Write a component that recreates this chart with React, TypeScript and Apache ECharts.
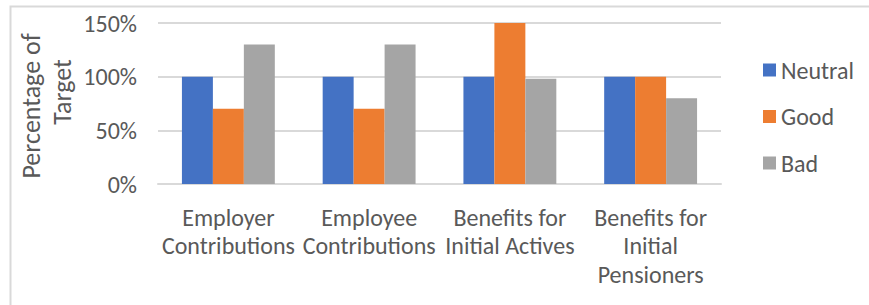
import React, { useEffect, useRef } from "react";
import * as echarts from "echarts";

const categories = [
  "Employer\nContributions",
  "Employee\nContributions",
  "Benefits for\nInitial Actives",
  "Benefits for\nInitial\nPensioners",
];
const seriesNames = ["Neutral", "Good", "Bad"];
const neutralValues = [100, 100, 100, 100];
const goodValues = [70, 70, 150, 100];
const badValues = [130, 130, 98, 80];
const yTicks = [0, 50, 100, 150];
const yAxisTitleLines = ["Percentage of", "Target"];

const FONT = "Carlito, Calibri, Lato, sans-serif";
const TEXT = "#595959";
const GRID = "#d9d9d9";
const COLORS = ["#4472C4", "#ED7D31", "#A5A5A5"];
const FS = 24;
const TITLE_FS = 26;

export default function App() {
  const ref = useRef<HTMLDivElement>(null);
  useEffect(() => {
    if (!ref.current) return;
    const chart = echarts.init(ref.current, undefined, { renderer: "svg" });
    const values = [neutralValues, goodValues, badValues];
    chart.setOption({
      animation: false,
      color: COLORS,
      textStyle: { fontFamily: FONT },
      grid: { left: 158, right: 148, top: 23, bottom: 121, containLabel: false },
      legend: {
        orient: "vertical",
        left: 758,
        top: 53,
        itemWidth: 13,
        itemHeight: 13,
        itemGap: 22.5,
        itemTextGap: 6,
        icon: "rect",
        selectedMode: false,
        textStyle: { color: TEXT, fontSize: FS, fontFamily: FONT },
        data: seriesNames,
      },
      xAxis: {
        type: "category",
        data: categories,
        axisLine: { show: true, lineStyle: { color: GRID, width: 2 } },
        axisTick: { show: false },
        axisLabel: {
          interval: 0,
          color: TEXT,
          fontSize: FS,
          fontFamily: FONT,
          lineHeight: 28.5,
          margin: 19,
          align: "center",
        },
      },
      yAxis: {
        type: "value",
        min: yTicks[0],
        max: yTicks[yTicks.length - 1],
        interval: 50,
        axisLine: { show: false },
        axisTick: { show: false },
        splitLine: { lineStyle: { color: GRID, width: 2 } },
        axisLabel: {
          color: TEXT,
          fontSize: FS,
          fontFamily: FONT,
          margin: 21,
          formatter: (v: number) => `${v}%`,
        },
      },
      graphic: [
        {
          type: "rect",
          shape: { x: 10.5, y: 6.5, width: 900, height: 400 },
          style: { fill: "none", stroke: GRID, lineWidth: 2 },
          silent: true,
        },
        {
          type: "text",
          x: 31,
          y: 106,
          rotation: Math.PI / 2,
          style: {
            text: yAxisTitleLines[0],
            fill: TEXT,
            fontSize: TITLE_FS,
            fontFamily: FONT,
            align: "center",
            verticalAlign: "middle",
          },
        },
        {
          type: "text",
          x: 62,
          y: 92,
          rotation: Math.PI / 2,
          style: {
            text: yAxisTitleLines[1],
            fill: TEXT,
            fontSize: TITLE_FS,
            fontFamily: FONT,
            align: "center",
            verticalAlign: "middle",
          },
        },
      ],
      series: seriesNames.map((name, i) => ({
        name,
        type: "bar",
        data: values[i],
        barGap: "0%",
        barCategoryGap: "34%",
        itemStyle: { color: COLORS[i] },
      })),
    });
    return () => chart.dispose();
  }, []);
  return (
    <div
      ref={ref}
      style={{ position: "fixed", left: 0, top: 0, width: 869, height: 305, background: "#fff" }}
    />
  );
}
